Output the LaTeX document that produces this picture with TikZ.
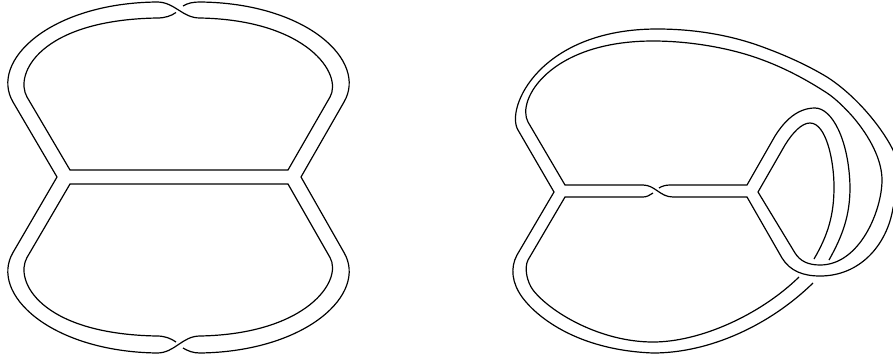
\documentclass[tikz,border=0pt]{standalone}
\tikzset{
  strand/.style={draw=black,line width=0.6pt,line cap=butt,line join=miter}
}
\begin{document}
\begin{tikzpicture}[x=0.5pt,y=-0.5pt]
\useasboundingbox (0,0) rectangle (893,360);
\clip (0,0) rectangle (893,360);
% LEFT FIGURE
\draw[strand] (57,177) -- (13,102) .. controls (-11,61) and (50,3) .. (157,2)
  .. controls (175,2) and (182,18) .. (200,18)
  .. controls (307,20) and (343,74) .. (330,97) -- (288,170) -- (70,170) -- (27,97)
  .. controls (14,74) and (40,20) .. (157,18) .. controls (165,18) and (171,16) .. (176,12.5);
\draw[strand] (183,6) .. controls (188,3) and (193,2) .. (200,2)
  .. controls (307,3) and (368,61) .. (344,102) -- (301,177);
\draw[strand] (57,177) -- (13,252.5) .. controls (-11,293.5) and (50,351.5) .. (157,353)
  .. controls (175,353) and (182,336) .. (200,336)
  .. controls (307,334) and (343,280.5) .. (330,257.5) -- (288,184) -- (70,184) -- (27,257.5)
  .. controls (14,280.5) and (40,334) .. (157,336) .. controls (165,336) and (171,338.5) .. (176,342);
\draw[strand] (183,348) .. controls (188,351) and (193,353) .. (200,353)
  .. controls (307,351.5) and (368,293.5) .. (344,252.5) -- (301,177);
% RIGHT FIGURE
% long strand
\draw[strand] (813,283) .. controls (770,325) and (710,353) .. (653,353)
  .. controls (575,350) and (535,315) .. (522,297)
  .. controls (512,283) and (510,268) .. (517,255) -- (554,192) -- (518,130)
  .. controls (505,108) and (540,29) .. (657,29)
  .. controls (700,29) and (735,37) .. (760,46)
  .. controls (785,55) and (807,65) .. (827,77)
  .. controls (855,95) and (880,125) .. (892,148)
  .. controls (899,161) and (900,190) .. (893,208)
  .. controls (887,245) and (860,276) .. (820,276)
  .. controls (803,276) and (790,271) .. (782,258) -- (747,197) -- (673,197)
  .. controls (660,197) and (655,185) .. (643,185) -- (565,185) -- (528,122)
  .. controls (516,100) and (550,41) .. (653,41)
  .. controls (690,41) and (730,48) .. (760,59)
  .. controls (785,68) and (807,80) .. (827,93)
  .. controls (836,99) and (845,108) .. (853,117)
  .. controls (870,137) and (882,160) .. (882,180)
  .. controls (882,210) and (860,265) .. (820,265)
  .. controls (808,265) and (800,261) .. (795,253) -- (758,192) -- (785,145)
  .. controls (793,132) and (802,123) .. (810,123)
  .. controls (826,123) and (834,160) .. (834,187)
  .. controls (834,215) and (828,235) .. (814,259);
% loop strand from crossing
\draw[strand] (829,260) .. controls (843,235) and (850,215) .. (850,187)
  .. controls (849,140) and (832,108) .. (815,108)
  .. controls (798,108) and (785,120) .. (775,136) -- (747,185) -- (670,185)
  .. controls (666,185) and (662,186) .. (659,188);
% lower strand
\draw[strand] (653,193) .. controls (650,195) and (647,197) .. (643,197) -- (565,197) -- (528,260)
  .. controls (524,268) and (527,282) .. (533,290)
  .. controls (550,312) and (600,342) .. (653,342)
  .. controls (700,342) and (760,315) .. (799,277);
\end{tikzpicture}
\end{document}
